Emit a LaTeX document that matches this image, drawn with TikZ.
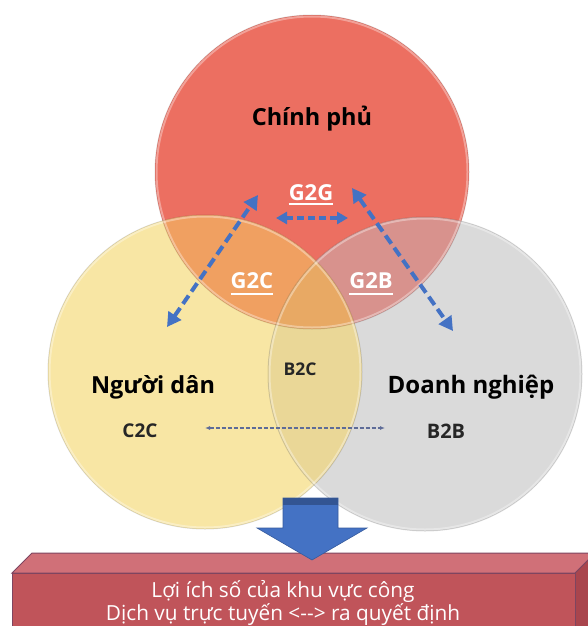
\documentclass[tikz,border=0pt]{standalone}
\usepackage{fontspec}
\setmainfont{Open Sans}
\usetikzlibrary{arrows.meta}

% region colours of the three-set Venn diagram
\definecolor{govRed}{HTML}{EC6F61}
\definecolor{citYel}{HTML}{F8E6A4}
\definecolor{bizGry}{HTML}{DADADA}
\definecolor{govCit}{HTML}{F0A061}
\definecolor{govBiz}{HTML}{D8928D}
\definecolor{citBiz}{HTML}{EAD797}
\definecolor{allThree}{HTML}{E8A964}
\definecolor{linkBlue}{HTML}{4472C4}
\definecolor{thinLink}{HTML}{5E6C98}
\definecolor{slabFront}{HTML}{C0545A}
\definecolor{slabTop}{HTML}{D07078}
\definecolor{slabSide}{HTML}{A9454D}
\definecolor{slabEdge}{HTML}{7E4560}

\begin{document}
\begin{tikzpicture}[x=1pt,y=-1pt,
  setlabel/.style={font=\bfseries\fontsize{23.5}{27}\selectfont, text=black, anchor=base, inner sep=0pt},
  pairlabel/.style={font=\bfseries\fontsize{19}{22}\selectfont, text=black!85, anchor=base, inner sep=0pt},
  govpair/.style={font=\bfseries\fontsize{22}{25}\selectfont, text=white, anchor=base, inner sep=0pt},
  underbar/.style={draw=white, line width=1.6pt},
  link/.style={draw=linkBlue, line width=4pt, dash pattern=on 10pt off 5pt,
    {Triangle[length=14pt,width=15pt]}-{Triangle[length=14pt,width=15pt]}},
  shortlink/.style={draw=linkBlue, line width=3.5pt, dash pattern=on 7pt off 4pt,
    {Triangle[length=11pt,width=12pt]}-{Triangle[length=11pt,width=12pt]}},
  thinlink/.style={draw=thinLink, line width=1.2pt, dash pattern=on 4pt off 2pt,
    {Latex[length=5pt,width=4pt]}-{Latex[length=5pt,width=4pt]}},
  bottomtext/.style={font=\fontsize{20.8}{23}\selectfont, text=white, anchor=base, inner sep=0pt}
]
\useasboundingbox (0,0) rectangle (588,626);
\fill[white] (0,0) rectangle (588,626);

% circle centres
\coordinate (cR) at (312,172);
\coordinate (cY) at (205,372);
\coordinate (cG) at (425,374);
\def\rr{157pt}

% single regions
\fill[govRed] (cR) circle[radius=\rr];
\fill[citYel] (cY) circle[radius=\rr];
\fill[bizGry] (cG) circle[radius=\rr];
% pairwise overlaps
\begin{scope}
  \clip (cR) circle[radius=\rr];
  \fill[govCit] (cY) circle[radius=\rr];
\end{scope}
\begin{scope}
  \clip (cR) circle[radius=\rr];
  \fill[govBiz] (cG) circle[radius=\rr];
\end{scope}
\begin{scope}
  \clip (cY) circle[radius=\rr];
  \fill[citBiz] (cG) circle[radius=\rr];
\end{scope}
% triple overlap
\begin{scope}
  \clip (cR) circle[radius=\rr];
  \clip (cY) circle[radius=\rr];
  \fill[allThree] (cG) circle[radius=\rr];
\end{scope}
% rims
\foreach \c in {cR,cY,cG}{
  \draw[black, opacity=0.12, line width=1pt] (\c) circle[radius=\rr];
  \draw[white, opacity=0.35, line width=2pt] (\c) circle[radius=155.5pt];
}

% set names
\node[setlabel] (gov) at (312,125) {Chính phủ};
\node[setlabel] (cit) at (153,393) {Người dân};
\node[setlabel, font=\bfseries\fontsize{24}{27}\selectfont] (biz) at (471,393) {Doanh nghiệp};

% interaction labels
\node[govpair] (g2g) at (311,200) {G2G};
\node[govpair] (g2c) at (252,288) {G2C};
\node[govpair] (g2b) at (371,288) {G2B};
\draw[underbar] ([yshift=-4pt]g2g.base west) -- ([yshift=-4pt]g2g.base east);
\draw[underbar] ([yshift=-6pt]g2c.base west) -- ([yshift=-6pt]g2c.base east);
\draw[underbar] ([yshift=-6pt]g2b.base west) -- ([yshift=-6pt]g2b.base east);

\node[pairlabel, font=\bfseries\fontsize{17.5}{20}\selectfont] (b2c) at (300,375) {B2C};
\node[pairlabel] (c2c) at (140,437) {C2C};
\node[pairlabel, font=\bfseries\fontsize{20}{22}\selectfont] (b2b) at (446,438) {B2B};

% link end points
\coordinate (gcTop) at (258,195);
\coordinate (gcBot) at (167,327);
\coordinate (ggL) at (276,218);
\coordinate (ggR) at (348,218);
\coordinate (gbTop) at (352,188);
\coordinate (gbBot) at (453,331);
\coordinate (ccEnd) at (205,428);
\coordinate (bbEnd) at (385,428);

\draw[link] (gcBot) -- (gcTop);
\draw[link] (gbTop) -- (gbBot);
\draw[shortlink] (ggL) -- (ggR);
\draw[thinlink] (ccEnd) -- (bbEnd);

% slab at the bottom
\coordinate (fTL) at (12,573);
\coordinate (fTR) at (575,573);
\coordinate (fBL) at (12,640);
\coordinate (fBR) at (575,640);
\coordinate (tTL) at (32,553);
\coordinate (tTR) at (595,553);
\coordinate (sBR) at (595,620);
\filldraw[fill=slabSide, draw=slabEdge, line width=1pt] (fTR) -- (tTR) -- (sBR) -- (fBR) -- cycle;
\filldraw[fill=slabTop, draw=slabEdge, line width=1pt] (fTL) -- (tTL) -- (tTR) -- (fTR) -- cycle;
\filldraw[fill=slabFront, draw=slabEdge, line width=1pt] (fTL) -- (fTR) -- (fBR) -- (fBL) -- cycle;

% block arrow into the slab
\coordinate (arTip) at (312,560);
\filldraw[fill=linkBlue, draw=linkBlue!80!black, line width=0.6pt]
  (283,498) -- (338,498) -- (338,528) -- (367,528) -- (arTip) -- (257,528) -- (283,528) -- cycle;
\fill[linkBlue!75!black] (283.3,498.3) rectangle (337.7,505);

\node[bottomtext] (benefit) at (283,597) {Lợi ích số của khu vực công};
\node[bottomtext] (service) at (283,620) {Dịch vụ trực tuyến <-{}-> ra quyết định};
\end{tikzpicture}
\end{document}
